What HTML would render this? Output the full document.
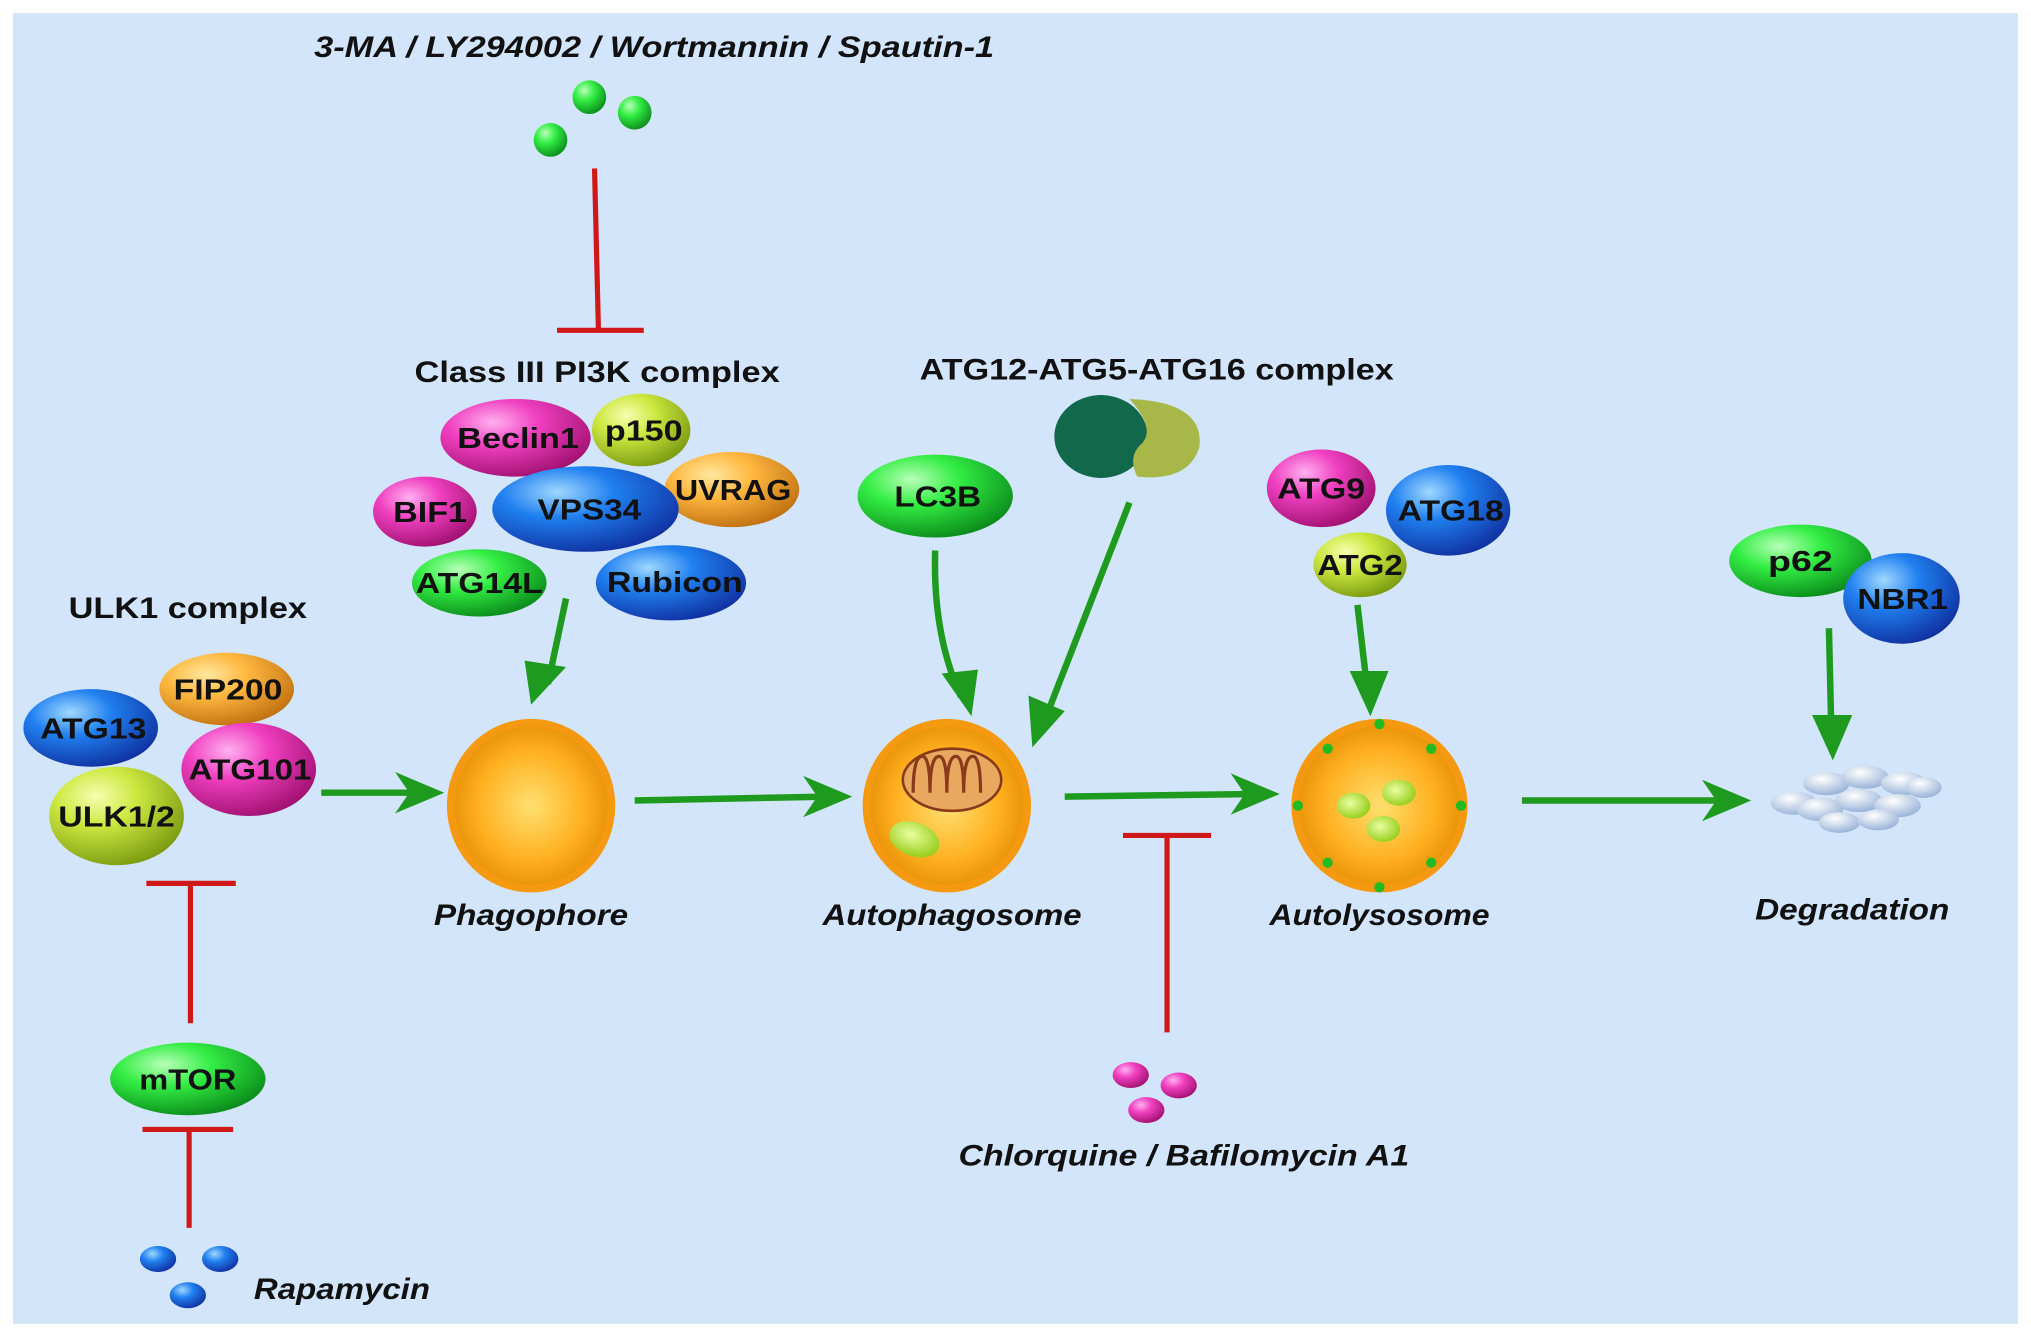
<!DOCTYPE html>
<html><head><meta charset="utf-8"><style>
html,body{margin:0;padding:0;background:#fff;}
svg{display:block;}
text{font-family:"Liberation Sans",sans-serif;font-weight:bold;}
</style></head><body>
<svg width="2031" height="1338" viewBox="0 0 1568 1033" xmlns="http://www.w3.org/2000/svg">
<defs>
<radialGradient id="gG" cx="35%" cy="30%" r="75%"><stop offset="0" stop-color="#b8ffb8"/><stop offset="0.4" stop-color="#33ee44"/><stop offset="1" stop-color="#0a8a1a"/></radialGradient>
<radialGradient id="gP" cx="35%" cy="30%" r="75%"><stop offset="0" stop-color="#ffb0f0"/><stop offset="0.4" stop-color="#f040c0"/><stop offset="1" stop-color="#a01070"/></radialGradient>
<radialGradient id="gB" cx="35%" cy="30%" r="75%"><stop offset="0" stop-color="#a0d8ff"/><stop offset="0.4" stop-color="#2080f0"/><stop offset="1" stop-color="#1030a0"/></radialGradient>
<radialGradient id="gY" cx="35%" cy="30%" r="75%"><stop offset="0" stop-color="#f4ffb0"/><stop offset="0.4" stop-color="#cde840"/><stop offset="1" stop-color="#7a9a10"/></radialGradient>
<radialGradient id="gO" cx="35%" cy="30%" r="75%"><stop offset="0" stop-color="#ffe8a0"/><stop offset="0.4" stop-color="#ffb840"/><stop offset="1" stop-color="#c07010"/></radialGradient>
<radialGradient id="gC" cx="50%" cy="50%" r="55%"><stop offset="0" stop-color="#ffe070"/><stop offset="0.6" stop-color="#ffb020"/><stop offset="1" stop-color="#e08a00"/></radialGradient>
<radialGradient id="gW" cx="40%" cy="30%" r="70%"><stop offset="0" stop-color="#ffffff"/><stop offset="1" stop-color="#9ab4d8"/></radialGradient>
<radialGradient id="gLg" cx="40%" cy="40%" r="60%"><stop offset="0" stop-color="#eaffa0"/><stop offset="1" stop-color="#9ad020"/></radialGradient>
</defs>
<rect x="0" y="0" width="1568" height="1033" fill="#fff"/>
<rect x="10" y="10" width="1548" height="1012" fill="#d2e5fb"/>

<g fill="none" stroke="#1e9a1e" stroke-width="5">
<path d="M437,462 L423,528" />
<path d="M248,612 L325,612"/>
<path d="M490,618 L640,615"/>
<path d="M722,425 Q720,490 742,538"/>
<path d="M872,388 L805,560"/>
<path d="M822,615 L970,613"/>
<path d="M1048,467 L1056,536"/>
<path d="M1175,618 L1335,618"/>
<path d="M1412,485 L1414,570"/>
</g>
<g fill="#1e9a1e">
<polygon points="410,544 405,510 437,515"/>
<polygon points="343,612 305,596 316,612 305,628"/>
<polygon points="658,615 620,599 631,615 620,631"/>
<polygon points="750,553 727,520 755,517"/>
<polygon points="797,577 794,537 822,549"/>
<polygon points="988,613 950,597 961,613 950,629"/>
<polygon points="1058,553 1042,518 1072,518"/>
<polygon points="1352,618 1314,602 1325,618 1314,634"/>
<polygon points="1415,587 1399,552 1430,552"/>
</g>

<g stroke="#d01818" stroke-width="4" fill="none">
<path d="M459,130 L462,255 M430,255 L497,255"/>
<path d="M901,645 L901,797 M867,645 L935,645"/>
<path d="M147,682 L147,790 M113,682 L182,682"/>
<path d="M146,872 L146,948 M110,872 L180,872"/>
</g>

<text x="505" y="44" font-size="23" font-style="italic" text-anchor="middle" fill="#111" textLength="525" lengthAdjust="spacingAndGlyphs">3-MA / LY294002 / Wortmannin / Spautin-1</text>
<circle cx="455" cy="75" r="13" fill="url(#gG)"/><circle cx="490" cy="87" r="13" fill="url(#gG)"/><circle cx="425" cy="108" r="13" fill="url(#gG)"/>

<text x="461" y="295" font-size="23" text-anchor="middle" fill="#111" textLength="282" lengthAdjust="spacingAndGlyphs">Class III PI3K complex</text>
<ellipse cx="398" cy="338" rx="58" ry="30" fill="url(#gP)"/>
<ellipse cx="495" cy="332" rx="38" ry="28" fill="url(#gY)"/>
<ellipse cx="565" cy="378" rx="52" ry="29" fill="url(#gO)"/>
<ellipse cx="328" cy="395" rx="40" ry="27" fill="url(#gP)"/>
<ellipse cx="452" cy="393" rx="72" ry="33" fill="url(#gB)"/>
<ellipse cx="370" cy="450" rx="52" ry="26" fill="url(#gG)"/>
<ellipse cx="518" cy="450" rx="58" ry="29" fill="url(#gB)"/>
<g font-size="22" fill="#111" text-anchor="middle">
<text x="400" y="346" textLength="94" lengthAdjust="spacingAndGlyphs">Beclin1</text>
<text x="497" y="340" textLength="60" lengthAdjust="spacingAndGlyphs">p150</text>
<text x="566" y="386" textLength="90" lengthAdjust="spacingAndGlyphs">UVRAG</text>
<text x="332" y="403" textLength="57" lengthAdjust="spacingAndGlyphs">BIF1</text>
<text x="455" y="401" textLength="80" lengthAdjust="spacingAndGlyphs">VPS34</text>
<text x="370" y="458" textLength="98" lengthAdjust="spacingAndGlyphs">ATG14L</text>
<text x="521" y="457" textLength="105" lengthAdjust="spacingAndGlyphs">Rubicon</text>
</g>

<text x="145" y="477" font-size="23" text-anchor="middle" fill="#111" textLength="184" lengthAdjust="spacingAndGlyphs">ULK1 complex</text>
<ellipse cx="70" cy="562" rx="52" ry="30" fill="url(#gB)"/>
<ellipse cx="175" cy="532" rx="52" ry="28" fill="url(#gO)"/>
<ellipse cx="90" cy="630" rx="52" ry="38" fill="url(#gY)"/>
<ellipse cx="192" cy="594" rx="52" ry="36" fill="url(#gP)"/>
<g font-size="22" fill="#111" text-anchor="middle">
<text x="72" y="570" textLength="82" lengthAdjust="spacingAndGlyphs">ATG13</text>
<text x="176" y="540" textLength="84" lengthAdjust="spacingAndGlyphs">FIP200</text>
<text x="193" y="602" textLength="95" lengthAdjust="spacingAndGlyphs">ATG101</text>
<text x="90" y="638" textLength="90" lengthAdjust="spacingAndGlyphs">ULK1/2</text>
</g>

<ellipse cx="410" cy="622" rx="62" ry="64" fill="url(#gC)" stroke="#f59a10" stroke-width="6"/>
<text x="410" y="714" font-size="23" font-style="italic" text-anchor="middle" fill="#111" textLength="150" lengthAdjust="spacingAndGlyphs">Phagophore</text>

<ellipse cx="731" cy="622" rx="62" ry="64" fill="url(#gC)" stroke="#f59a10" stroke-width="6"/>
<ellipse cx="735" cy="602" rx="38" ry="24" fill="#e8a860" stroke="#8a3a1a" stroke-width="2"/>
<path d="M705,612 q0,-28 7,-28 q6,0 6,28 q0,-28 7,-28 q6,0 6,28 q0,-28 7,-28 q6,0 6,28 q0,-28 7,-28 q6,0 6,28" fill="none" stroke="#8a3a1a" stroke-width="2.5"/>
<ellipse cx="706" cy="648" rx="20" ry="13" fill="url(#gLg)" transform="rotate(20 706 648)"/>
<text x="735" y="714" font-size="23" font-style="italic" text-anchor="middle" fill="#111" textLength="200" lengthAdjust="spacingAndGlyphs">Autophagosome</text>

<ellipse cx="722" cy="383" rx="60" ry="32" fill="url(#gG)"/>
<text x="724" y="391" font-size="22" text-anchor="middle" fill="#111" textLength="67" lengthAdjust="spacingAndGlyphs">LC3B</text>

<text x="893" y="293" font-size="23" text-anchor="middle" fill="#111" textLength="366" lengthAdjust="spacingAndGlyphs">ATG12-ATG5-ATG16 complex</text>
<ellipse cx="850" cy="337" rx="36" ry="32" fill="#11684a"/>
<path d="M872,308 Q930,310 926,345 Q918,372 878,368 Q870,352 882,342 Q892,330 872,308 Z" fill="#a8b848"/>

<ellipse cx="1065" cy="622" rx="65" ry="64" fill="url(#gC)" stroke="#f59a10" stroke-width="6"/>
<ellipse cx="1045" cy="622" rx="13" ry="10" fill="url(#gLg)"/><ellipse cx="1080" cy="612" rx="13" ry="10" fill="url(#gLg)"/><ellipse cx="1068" cy="640" rx="13" ry="10" fill="url(#gLg)"/>
<g fill="#22bb22"><circle cx="1065" cy="559" r="4"/><circle cx="1025" cy="578" r="4"/><circle cx="1105" cy="578" r="4"/><circle cx="1002" cy="622" r="4"/><circle cx="1128" cy="622" r="4"/><circle cx="1025" cy="666" r="4"/><circle cx="1105" cy="666" r="4"/><circle cx="1065" cy="685" r="4"/></g>
<text x="1065" y="714" font-size="23" font-style="italic" text-anchor="middle" fill="#111" textLength="170" lengthAdjust="spacingAndGlyphs">Autolysosome</text>

<ellipse cx="1020" cy="377" rx="42" ry="30" fill="url(#gP)"/>
<ellipse cx="1118" cy="394" rx="48" ry="35" fill="url(#gB)"/>
<ellipse cx="1050" cy="436" rx="36" ry="25" fill="url(#gY)"/>
<g font-size="22" fill="#111" text-anchor="middle">
<text x="1020" y="385" textLength="68" lengthAdjust="spacingAndGlyphs">ATG9</text>
<text x="1120" y="402" textLength="82" lengthAdjust="spacingAndGlyphs">ATG18</text>
<text x="1050" y="444" textLength="66" lengthAdjust="spacingAndGlyphs">ATG2</text>
</g>

<ellipse cx="1390" cy="433" rx="55" ry="28" fill="url(#gG)"/>
<ellipse cx="1468" cy="462" rx="45" ry="35" fill="url(#gB)"/>
<g font-size="22" fill="#111" text-anchor="middle">
<text x="1390" y="441" textLength="50" lengthAdjust="spacingAndGlyphs">p62</text>
<text x="1469" y="470" textLength="70" lengthAdjust="spacingAndGlyphs">NBR1</text>
</g>

<g fill="url(#gW)">
<ellipse cx="1385" cy="620" rx="18" ry="9"/><ellipse cx="1410" cy="605" rx="18" ry="9"/><ellipse cx="1440" cy="600" rx="18" ry="9"/><ellipse cx="1470" cy="605" rx="18" ry="9"/>
<ellipse cx="1405" cy="625" rx="18" ry="9"/><ellipse cx="1435" cy="618" rx="18" ry="9"/><ellipse cx="1465" cy="622" rx="18" ry="9"/><ellipse cx="1485" cy="608" rx="14" ry="8"/>
<ellipse cx="1420" cy="635" rx="16" ry="8"/><ellipse cx="1450" cy="633" rx="16" ry="8"/>
</g>
<text x="1430" y="710" font-size="23" font-style="italic" text-anchor="middle" fill="#111" textLength="150" lengthAdjust="spacingAndGlyphs">Degradation</text>

<ellipse cx="873" cy="830" rx="14" ry="10" fill="url(#gP)"/><ellipse cx="910" cy="838" rx="14" ry="10" fill="url(#gP)"/><ellipse cx="885" cy="857" rx="14" ry="10" fill="url(#gP)"/>
<text x="914" y="900" font-size="23" font-style="italic" text-anchor="middle" fill="#111" textLength="348" lengthAdjust="spacingAndGlyphs">Chlorquine / Bafilomycin A1</text>

<ellipse cx="145" cy="833" rx="60" ry="28" fill="url(#gG)"/>
<text x="145" y="841" font-size="22" text-anchor="middle" fill="#111" textLength="75" lengthAdjust="spacingAndGlyphs">mTOR</text>
<ellipse cx="122" cy="972" rx="14" ry="10" fill="url(#gB)"/><ellipse cx="170" cy="972" rx="14" ry="10" fill="url(#gB)"/><ellipse cx="145" cy="1000" rx="14" ry="10" fill="url(#gB)"/>
<text x="264" y="1003" font-size="23" font-style="italic" text-anchor="middle" fill="#111" textLength="136" lengthAdjust="spacingAndGlyphs">Rapamycin</text>
</svg>
</body></html>
